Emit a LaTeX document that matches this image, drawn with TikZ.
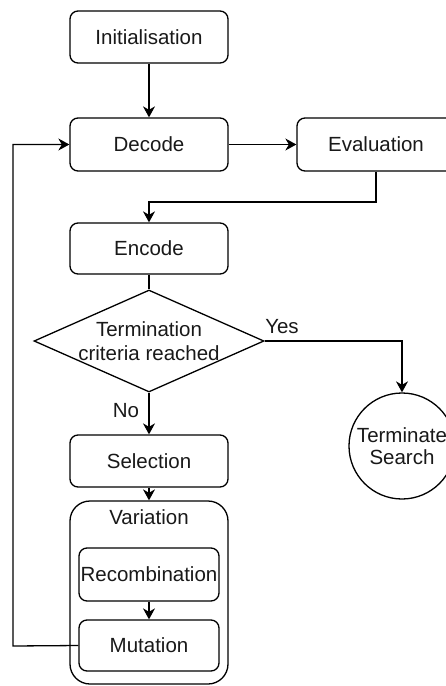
\documentclass[tikz,border=0pt]{standalone}
\usepackage{fontspec}
\setmainfont{Liberation Sans}
\usetikzlibrary{arrows.meta,shapes.geometric}
\begin{document}
\begin{tikzpicture}[x=1pt,y=-1pt,
  lw/.style={line width=1.3pt},
  txt/.style={font=\fontsize{20.5}{24}\selectfont, text=black!90},
  stepbox/.style={lw, draw, rounded corners=8pt, minimum width=158pt, minimum height=52pt, inner sep=0pt, txt},
  innerbox/.style={lw, draw, rounded corners=8pt, minimum width=140pt, inner sep=0pt, txt},
  arr/.style={lw, -{Stealth[length=11pt,width=12pt,inset=3.5pt]}},
  plain/.style={lw}
]
\clip (0,0) rectangle (446,686);
\fill[white] (0,0) rectangle (446,686);

\node[stepbox] (ini) at (149,37) {Initialisation};
\node[stepbox, minimum height=53pt] (dec) at (149,144.5) {Decode};
\node[stepbox, minimum height=53pt] (eva) at (376,144.5) {Evaluation};
\node[stepbox, minimum height=51pt] (enc) at (149,248.5) {Encode};
\node[diamond, lw, draw, minimum width=230pt, minimum height=102pt, inner sep=0pt,
  label={[txt, align=center, inner sep=0pt]center:Termination\\criteria reached}] (term) at (149,341) {};
\node[circle, lw, draw, minimum size=106pt, inner sep=0pt, txt, align=center] (stop) at (402,446) {Terminate\\[-2pt]Search};
\node[stepbox] (sel) at (149,461) {Selection};
\node[lw, draw, rounded corners=20pt, minimum width=158pt, minimum height=183pt, inner sep=0pt,
  label={[txt, anchor=north, inner sep=0pt, yshift=-9pt]north:Variation}] (var) at (149,592.5) {};
\node[innerbox, minimum height=53pt] (rec) at (149,574.5) {Recombination};
\node[innerbox, minimum height=51pt] (mut) at (149,645.5) {Mutation};

\coordinate (ej) at (376,202);
\coordinate (fb) at (13,646);

\draw[arr] (ini) -- (dec);
\draw[arr] (dec) -- (eva);
\draw[arr] (eva.south) -- (ej) -| (enc.north);
\draw[plain] (enc.south) -- (term.north);
\draw[arr] (term.east) -| (stop.north);
\draw[arr] (term.south) -- (sel.north);
\draw[arr] (sel.south) -- (var.north);
\draw[arr] (rec.south) -- (mut.north);
\draw[arr] (mut.west) -- (fb) |- (dec.west);

\node[txt, inner sep=0pt] (yes) at (282,327) {Yes};
\node[txt, inner sep=0pt] (no) at (126,411) {No};
\end{tikzpicture}
\end{document}
